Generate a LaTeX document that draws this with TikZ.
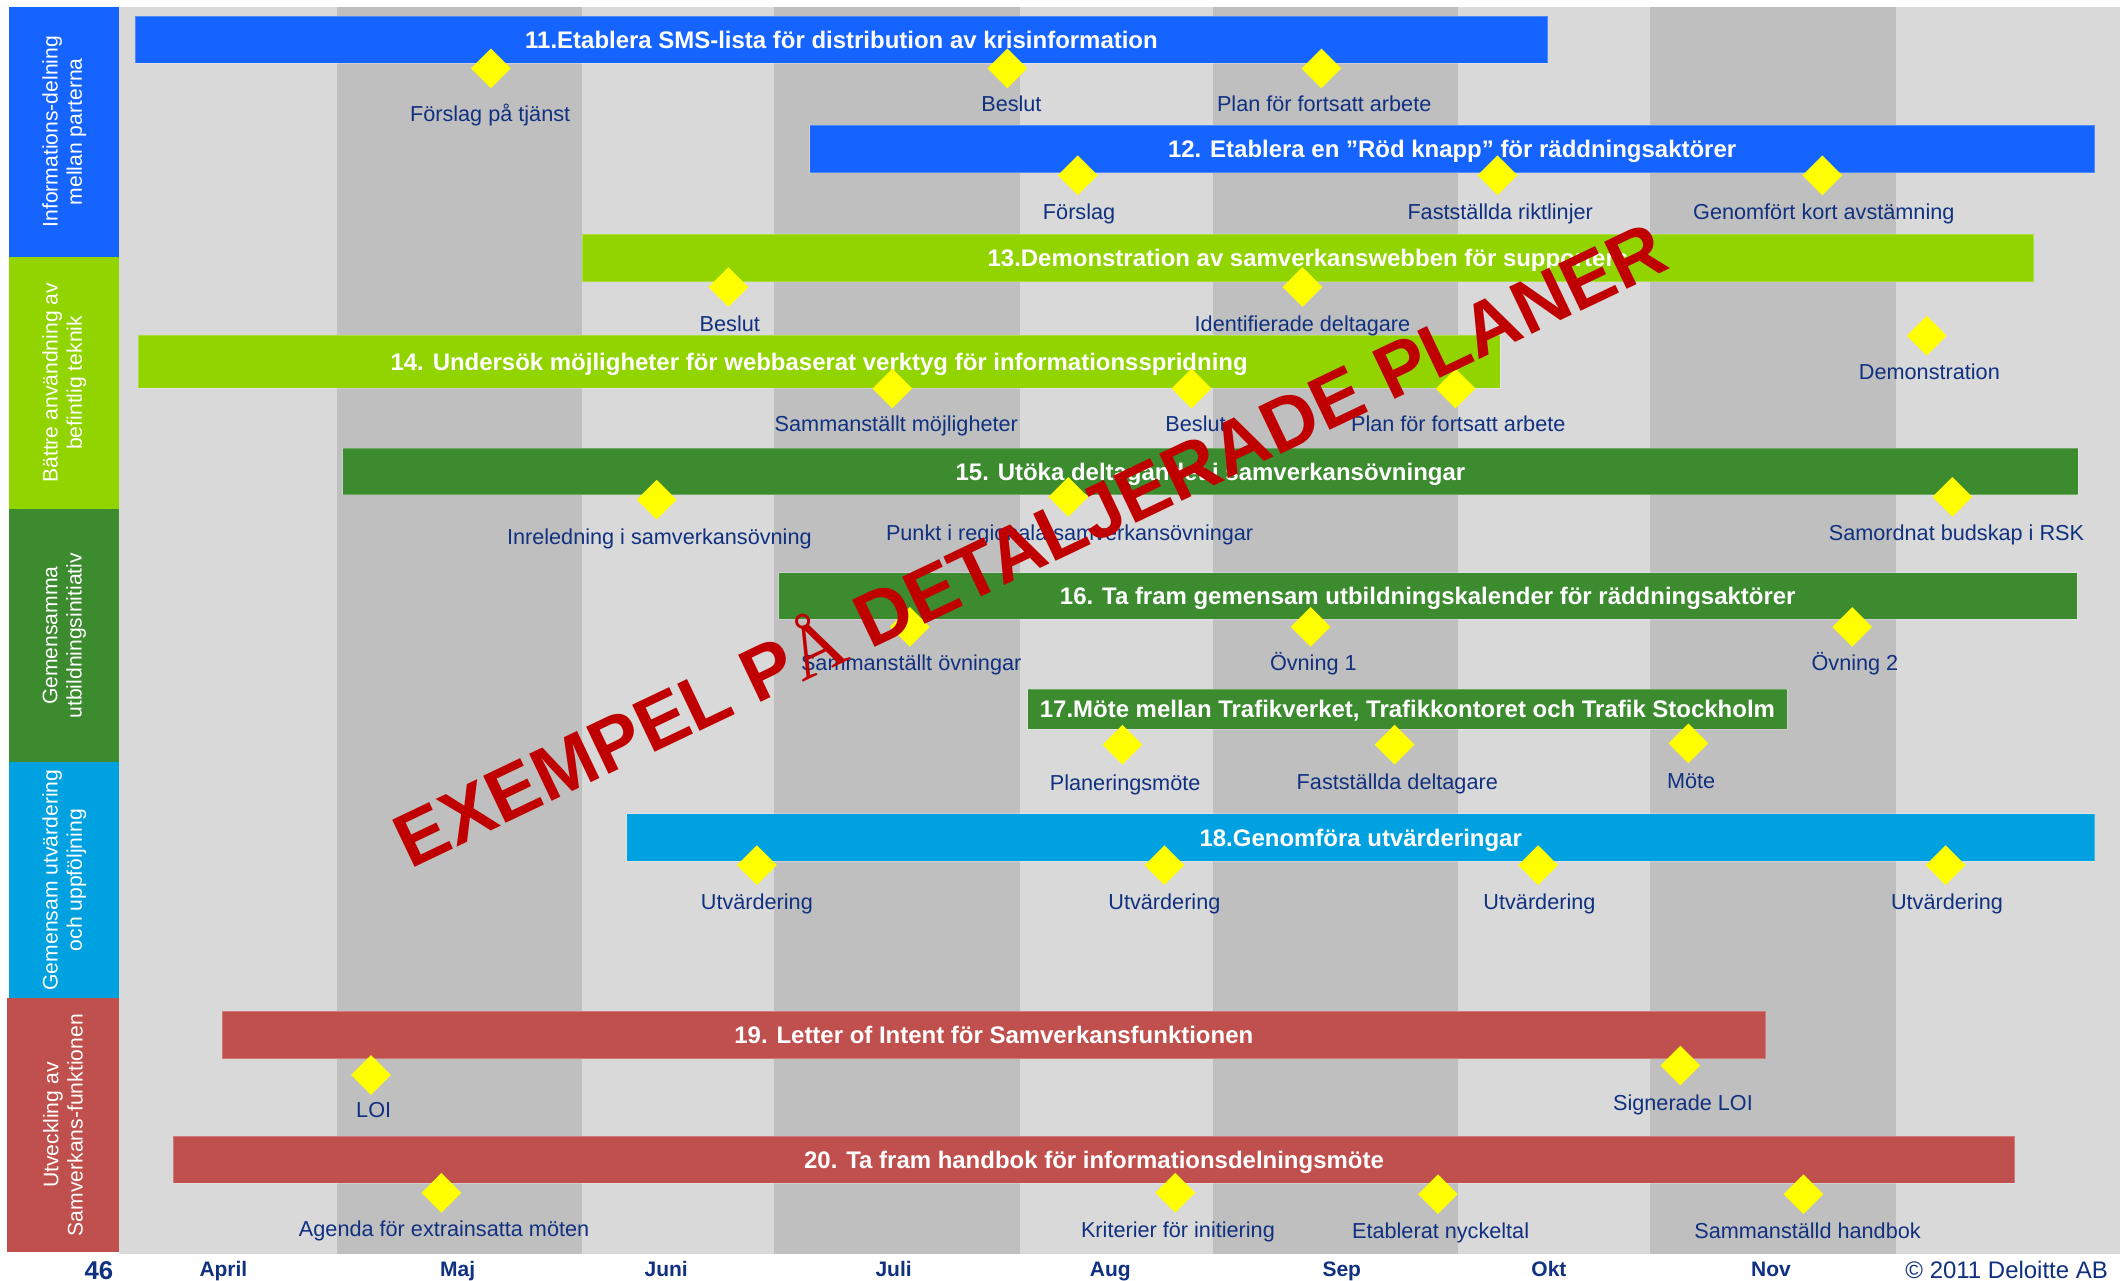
\documentclass[tikz,border=0pt]{standalone}
\usepackage{fontspec}
\setmainfont{Liberation Sans}
\newfontfamily\wmserif{Liberation Serif}
\usetikzlibrary{shapes.geometric}
\definecolor{cblue}{RGB}{22,100,255}
\definecolor{lgreen}{RGB}{146,212,0}
\definecolor{dgreen}{RGB}{61,139,47}
\definecolor{cyanb}{RGB}{0,161,224}
\definecolor{redb}{RGB}{192,80,77}
\definecolor{bglight}{RGB}{217,217,217}
\definecolor{bgdark}{RGB}{191,191,191}
\definecolor{navy}{RGB}{16,48,128}
\definecolor{wmred}{RGB}{192,0,0}
\definecolor{msyellow}{RGB}{255,255,0}
\newcommand\gbar[7]{\node[ganttbar,fill=#6,minimum width={#4-#2},minimum height={#5-#3}] (#1) at ({(#2+#4)/2},{(#3+#5)/2}) {#7};}
\newcommand\mstone[6]{\node[dia] (#1) at (#2,#3) {};\node[mlabel] (#1l) at (#4,{#5+6}) {#6};}
\begin{document}
\begin{tikzpicture}[x=1pt,y=-1pt,
  ganttbar/.style={rectangle,inner sep=0pt,text=white,font=\fontsize{17.7}{20}\selectfont\bfseries,text height=12.7pt,text depth=0pt,draw=white,draw opacity=0.25,line width=0.6pt},
  dia/.style={diamond,aspect=1,inner sep=0pt,minimum width=29.5,minimum height=29.5,fill=msyellow},
  mlabel/.style={anchor=base,inner sep=0pt,text=navy,font=\fontsize{16}{18}\selectfont},
  catbox/.style={rectangle,rotate=90,inner sep=0pt,text=white,align=center,font=\fontsize{15.6}{18}\selectfont},
  month/.style={anchor=base,inner sep=0pt,text=navy,font=\fontsize{15.5}{18}\selectfont\bfseries}]
\useasboundingbox (0,0) rectangle (1568,946);
\fill[white] (0,0) rectangle (1568,946);
% background stripes
\fill[bglight] (88,5) rectangle (1566,926);
\foreach \a/\b in {249/430,572/753,896/1077,1219/1400}{\fill[bgdark] (\a,5) rectangle (\b,926);}
% category boxes
\node[catbox,fill=cblue,minimum width=184.5,minimum height=81] (c1) at (47.5,97.25) {Informations-delning\\mellan parterna};
\node[catbox,fill=lgreen,minimum width=186.5,minimum height=81] (c2) at (47.5,282.75) {Bättre användning av\\befintlig teknik};
\node[catbox,fill=dgreen,minimum width=187,minimum height=81] (c3) at (47.5,469.5) {Gemensamma\\utbildningsinitiativ};
\node[catbox,fill=cyanb,minimum width=174,minimum height=81] (c4) at (47.5,650) {Gemensam utvärdering\\och uppföljning};
\node[catbox,fill=redb,minimum width=188,minimum height=83] (c5) at (46.5,831) {Utveckling av\\Samverkans-funktionen};
% bars
\gbar{b11}{100}{12}{1143}{46.5}{cblue}{11.Etablera SMS-lista för distribution av krisinformation}
\gbar{b12}{598}{92.5}{1547}{127.5}{cblue}{12. Etablera en ”Röd knapp” för räddningsaktörer}
\gbar{b13}{430}{173}{1502}{208}{lgreen}{13.Demonstration av samverkanswebben för supporters}
\gbar{b14}{102}{247.5}{1108}{286.5}{lgreen}{14. Undersök möjligheter för webbaserat verktyg för informationsspridning}
\gbar{b15}{253}{331}{1535}{365.5}{dgreen}{15. Utöka deltagandet i  samverkansövningar}
\gbar{b16}{575}{423}{1534}{457.5}{dgreen}{16. Ta fram gemensam utbildningskalender för räddningsaktörer}
\gbar{b17}{759}{509}{1320}{538.5}{dgreen}{17.Möte mellan Trafikverket, Trafikkontoret och Trafik Stockholm}
\gbar{b18}{463}{601}{1547}{636}{cyanb}{18.Genomföra utvärderingar}
\gbar{b19}{164}{747}{1304}{782}{redb}{19. Letter of Intent för Samverkansfunktionen}
\gbar{b20}{128}{839}{1488}{874}{redb}{20. Ta fram handbok för informationsdelningsmöte}
% milestones
\mstone{m11a}{362.5}{50.5}{362}{84}{Förslag på tjänst}
\mstone{m11b}{744}{50.5}{747}{76}{Beslut}
\mstone{m11c}{976}{50.5}{978}{76}{Plan för fortsatt arbete}
\mstone{m12a}{796}{129.5}{797}{156}{Förslag}
\mstone{m12b}{1106}{129.5}{1108}{156}{Fastställda riktlinjer}
\mstone{m12c}{1346}{129.5}{1347}{156}{Genomfört kort avstämning}
\mstone{m13a}{538}{212}{539}{239}{Beslut}
\mstone{m13b}{962}{212}{962}{239}{Identifierade deltagare}
\mstone{m13c}{1423}{248}{1425}{274}{Demonstration}
\mstone{m14a}{659}{287}{662}{313}{Sammanställt möjligheter}
\mstone{m14b}{880}{287}{883}{313}{Beslut}
\mstone{m14c}{1075}{287}{1077}{313}{Plan för fortsatt arbete}
\mstone{m15a}{485}{369}{487}{396}{Inreledning i samverkansövning}
\node[mlabel] (m15bl) at (790,399) {Punkt i regionala samverkansövningar};
\mstone{m15c}{1442}{367}{1445}{393}{Samordnat budskap i RSK}
\mstone{m16a}{672}{463}{673}{489}{Sammanställt övningar}
\mstone{m16b}{968}{463}{970}{489}{Övning 1}
\mstone{m16c}{1368}{463}{1370}{489}{Övning 2}
\mstone{m17a}{829}{550}{831}{578}{Planeringsmöte}
\mstone{m17b}{1030}{550}{1032}{577}{Fastställda deltagare}
\mstone{m17c}{1247}{549}{1249}{576}{Möte}
\mstone{m18a}{559}{639}{559}{666}{Utvärdering}
\mstone{m18b}{860}{639}{860}{666}{Utvärdering}
\mstone{m18c}{1136}{639}{1137}{666}{Utvärdering}
\mstone{m18d}{1437}{639}{1438}{666}{Utvärdering}
\mstone{m19a}{274}{794}{276}{819}{LOI}
\mstone{m19b}{1241}{787}{1243}{814}{Signerade LOI}
\mstone{m20a}{326}{881}{328}{907}{Agenda för extrainsatta möten}
\mstone{m20b}{868}{881}{870}{908}{Kriterier för initiering}
\mstone{m20c}{1062}{882}{1064}{909}{Etablerat nyckeltal}
\mstone{m20d}{1332}{882}{1335}{909}{Sammanställd handbok}
% month axis
\node[month,font=\fontsize{19}{20}\selectfont\bfseries] (p46) at (73,945) {46};
\node[month] (mapr) at (165,943) {April};
\node[month] (mmaj) at (338,943) {Maj};
\node[month] (mjun) at (492,943) {Juni};
\node[month] (mjul) at (660,943) {Juli};
\node[month] (maug) at (820,943) {Aug};
\node[month] (msep) at (991,943) {Sep};
\node[month] (mokt) at (1144,943) {Okt};
\node[month] (mnov) at (1308,943) {Nov};
\node[anchor=base east,inner sep=0pt,text=navy,font=\fontsize{17.7}{20}\selectfont] (copy) at (1557,944.5) {© 2011 Deloitte AB};
% watermark
\node[anchor=base west,rotate=25.5,inner sep=0pt,text=wmred,font=\fontsize{56}{56}\selectfont\bfseries] (wm) at (303,642) {EXEMPEL P{\wmserif\mdseries Å} DETALJERADE PLANER};
\node[dia] (m15b) at (789,367) {};
\end{tikzpicture}
\end{document}
